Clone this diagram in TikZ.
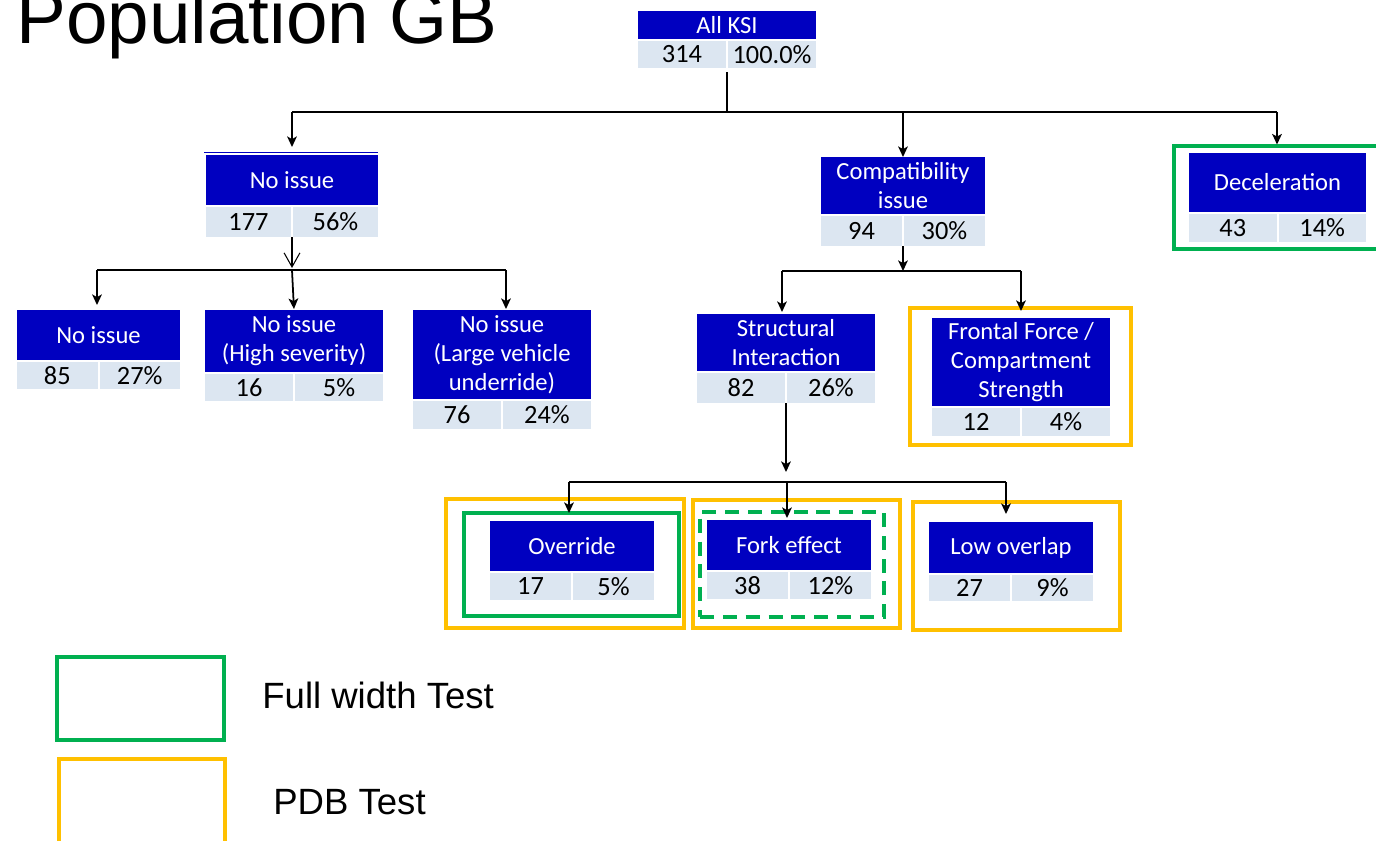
\documentclass[tikz,border=0pt]{standalone}
\usepackage{fontspec}
\setmainfont{Carlito}
\newfontfamily\arialfont{Liberation Sans}
\usetikzlibrary{arrows.meta,fit}
\definecolor{hdrblue}{RGB}{0,0,192}
\definecolor{cellgrey}{RGB}{220,230,241}
\definecolor{tgreen}{RGB}{0,176,80}
\definecolor{torange}{RGB}{255,192,0}
% name, x1, x2, ytop, yheaderbottom, ygreybottom, text, number, percent
\newcommand\kbox[9]{%
  \pgfmathsetmacro\kw{(#3-#2)*0.02}%
  \pgfmathsetmacro\kh{(#5-#4)*0.02}%
  \pgfmathsetmacro\kcw{((#3-#2)/2-1)*0.02}%
  \pgfmathsetmacro\kch{(#6-#5-2)*0.02}%
  \node[hdr, minimum width=\kw cm, minimum height=\kh cm] (#1) at ({(#2+#3)/2},{(#4+#5)/2}) {#7};
  \node[cell, minimum width=\kcw cm, minimum height=\kch cm] (#1n) at ({(3*#2+#3)/4-0.5},{(#5+2+#6)/2}) {#8};
  \node[cell, minimum width=\kcw cm, minimum height=\kch cm] (#1p) at ({(#2+3*#3)/4+0.5},{(#5+2+#6)/2}) {#9};
  \coordinate (#1s) at ({(#2+#3)/2},#6);
}
\begin{document}
\begin{tikzpicture}[x=0.02cm,y=-0.02cm,
  hdr/.style={fill=hdrblue, text=white, inner sep=0pt, outer sep=0pt, align=center,
    font=\fontsize{14}{16.5}\selectfont},
  cell/.style={fill=cellgrey, text=black, inner sep=0pt, outer sep=0pt,
    font=\fontsize{15}{17}\selectfont},
  conn/.style={line width=1pt},
  arr/.style={line width=1pt, -{Stealth[length=6pt,width=5.5pt,inset=1.5pt]}},
  openarr/.style={line width=0.6pt, -{Straight Barb[length=8pt,width=9pt]}},
  gframe/.style={draw=tgreen, line width=2.3pt, inner sep=0pt, outer sep=0pt},
  oframe/.style={draw=torange, line width=2.3pt, inner sep=0pt, outer sep=0pt},
  gdash/.style={gframe, dash pattern=on 8pt off 5pt},
  legendtext/.style={anchor=west, inner sep=0pt, font=\arialfont\fontsize{20.8}{24}\selectfont}
]
\useasboundingbox (0,0) rectangle (1376,840);

% title
\node[anchor=base west, inner sep=0pt, font=\arialfont\fontsize{42.5}{48}\selectfont] (title) at (16,43) {Population GB};

% frames
\node[gframe, fit={(1174,146) (1386,249)}] (decF) {};
\node[oframe, fit={(910,308) (1131,445)}] (ffO) {};
\node[oframe, fit={(446,499) (684,628)}] (ovO) {};
\node[gframe, fit={(464,513) (679,616)}] (ovG) {};
\node[oframe, fit={(693,500) (900,628)}] (feO) {};
\node[gdash, fit={(700,512) (884,617)}] (feG) {};
\node[oframe, fit={(913,502) (1120,630)}] (loO) {};

% boxes
\kbox{all}{638}{816}{11}{39}{68}{All KSI}{314}{100.0\%}
\kbox{ni}{206}{378}{155}{205}{237}{No issue}{177}{56\%}
\kbox{comp}{821}{985}{157}{214}{246}{Compatibility\\issue}{94}{30\%}
\kbox{dec}{1189}{1366}{153}{212}{242}{Deceleration}{43}{14\%}
\kbox{na}{17}{180}{310}{360}{389}{No issue}{85}{27\%}
\kbox{nb}{205}{383}{310}{372}{401}{No issue\\(High severity)}{16}{5\%}
\kbox{nc}{413}{591}{310}{399}{429}{No issue\\(Large vehicle\\underride)}{76}{24\%}
\kbox{si}{697}{875}{314}{371}{403}{Structural\\Interaction}{82}{26\%}
\kbox{ff}{932}{1110}{318}{406}{436}{Frontal Force /\\Compartment\\Strength}{12}{4\%}
\kbox{ov}{490}{654}{521}{571}{600}{Override}{17}{5\%}
\kbox{fe}{707}{871}{520}{570}{599}{Fork effect}{38}{12\%}
\kbox{lo}{929}{1093}{522}{573}{601}{Low overlap}{27}{9\%}

% thin line above first "No issue"
\draw[hdrblue, line width=0.5pt] ([shift={(-2,-3)}]ni.north west) -- ([shift={(0,-3)}]ni.north east);

% level 0 -> 1
\coordinate (t0) at (727,112);
\coordinate (tL) at (292,112);
\coordinate (tR) at (1277,112);
\draw[conn] ([yshift=-0.08cm]alls) -- (t0);
\draw[conn] (tL) -- (tR);
\draw[arr, shorten >=0.16cm] (tL) -- (tL |- ni.north);
\draw[arr] (tL -| comp.north) -- (comp.north);
\draw[arr, shorten >=0.03cm] (tR) -- (tR |- decF.north);

% No issue -> level 2
\coordinate (m1) at (292,270);
\coordinate (mL) at (97,270);
\coordinate (mR) at (506,270);
\draw[openarr, shorten >=0.04cm] (nis) -- (m1);
\draw[conn] (mL) -- (mR);
\draw[arr, shorten >=0.1cm] (mL) -- (mL |- na.north);
\draw[arr, shorten >=0.02cm] (m1) -- (nb.north);
\draw[arr, shorten >=0.02cm] (mR) -- (mR |- nc.north);

% Compatibility -> level 2
\coordinate (c1) at (903,271);
\coordinate (cL) at (782,271);
\coordinate (cR) at (1021,271);
\draw[arr] (comps) -- (c1);
\draw[conn] (cL) -- (cR);
\draw[arr, shorten >=0.04cm] (cL) -- (cL |- si.north);
\draw[arr, shorten >=-0.06cm] (cR) -- (cR |- ffO.north);

% Structural -> level 3
\coordinate (s1) at (787,482);
\coordinate (sL) at (569,482);
\coordinate (sR) at (1006,482);
\draw[arr, shorten >=0.2cm] (sis) -- (sis |- s1);
\draw[conn] (sL) -- (sR);
\draw[arr] (sL) -- (sL |- ovG.north);
\draw[arr, shorten >=0.04cm] (s1) -- (s1 |- fe.north);
\draw[arr, shorten >=0.16cm] (sR) -- (sR |- lo.north);

% legend
\node[gframe, fit={(57,657) (224,740)}] (lgG) {};
\node[legendtext] (lgGt) at (262,695) {Full width Test};
\node[oframe, fit={(59,759) (225,850)}] (lgO) {};
\node[legendtext] (lgOt) at (273,802) {PDB Test};
\end{tikzpicture}
\end{document}
